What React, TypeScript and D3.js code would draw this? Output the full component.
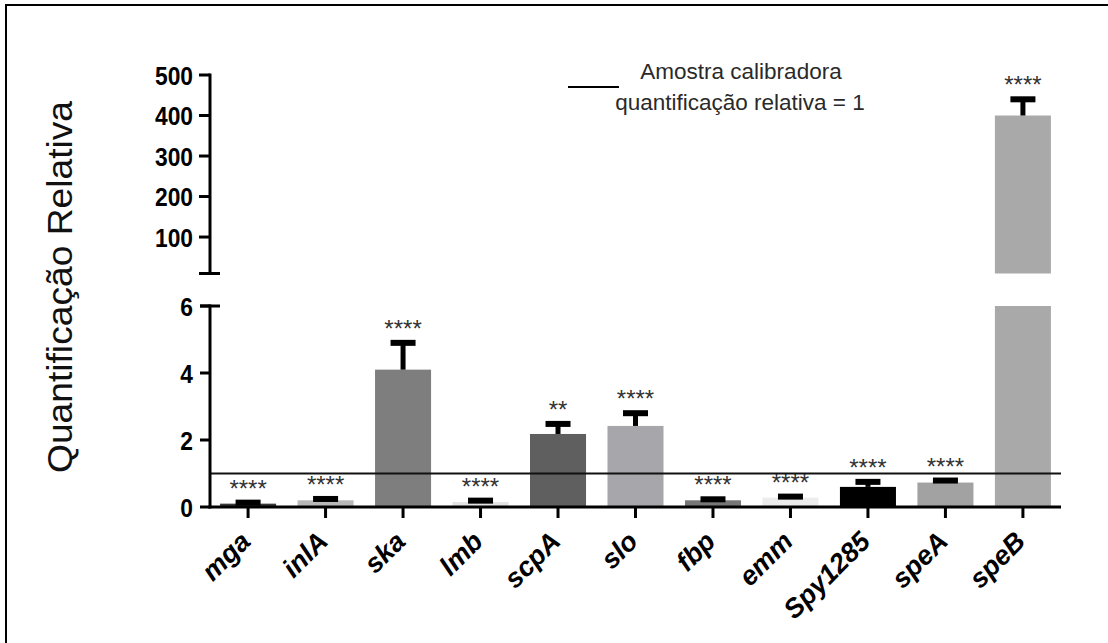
import React from "react";
import * as d3 from "d3";

// Relative expression of each gene against the calibrator sample (= 1)
const genes = ["mga", "inlA", "ska", "lmb", "scpA", "slo", "fbp", "emm", "Spy1285", "speA", "speB"];
const means = [0.1, 0.2, 4.1, 0.15, 2.18, 2.42, 0.2, 0.28, 0.6, 0.73, 400];
const errors = [0.03, 0.04, 0.8, 0.04, 0.3, 0.38, 0.03, 0.03, 0.15, 0.06, 40];
const significance = ["****", "****", "****", "****", "**", "****", "****", "****", "****", "****", "****"];
const barFills = ["#3a3a3a", "#b9b9b9", "#7e7e7e", "#e4e4e4", "#5f5f5f", "#a7a7ab", "#777777", "#ececec", "#000000", "#a2a2a2", "#a9a9a9"];

const lowerTicks = [0, 2, 4, 6];
const upperTicks = [100, 200, 300, 400, 500];
const calibrator = 1;

const W = 1108;
const H = 643;
const FONT = "'Liberation Sans', Arial, sans-serif";

export default function App() {
  const axisX = 210;
  const x = d3
    .scaleBand<string>()
    .domain(genes)
    .range([axisX, 1061])
    .paddingInner(0.277)
    .paddingOuter(0.13);

  // Broken y axis: lower segment 0–6, upper segment 10–500
  const yLow = d3.scaleLinear().domain([0, 6]).range([507, 306]);
  const yUp = d3.scaleLinear().domain([10, 500]).range([273.5, 75]);
  const lowMax = 6;

  const bw = x.bandwidth();
  const capW = 25;

  const tickLabel = (t: number, y: number) => (
    <text
      key={"tl" + t + "-" + y}
      transform={`translate(${axisX - 17},${y}) scale(0.95,1.1)`}
      dy="0.36em"
      textAnchor="end"
      fontSize={24}
      fontWeight="bold"
      fill="#000"
    >
      {t}
    </text>
  );

  return (
    <svg
      width={W}
      height={H}
      style={{ position: "absolute", left: 0, top: 0, background: "#fff" }}
      fontFamily={FONT}
    >
      {/* frame */}
      <rect x={6} y={5} width={1300} height={800} fill="none" stroke="#000" strokeWidth={2} />

      {/* bars */}
      {genes.map((g, i) => {
        const v = means[i];
        const x0 = x(g)!;
        if (v > lowMax) {
          return (
            <g key={g}>
              <rect x={x0} y={yLow(lowMax)} width={bw} height={yLow(0) - yLow(lowMax)} fill={barFills[i]} />
              <rect x={x0} y={yUp(v)} width={bw} height={yUp(10) - yUp(v)} fill={barFills[i]} />
            </g>
          );
        }
        return <rect key={g} x={x0} y={yLow(v)} width={bw} height={yLow(0) - yLow(v)} fill={barFills[i]} />;
      })}

      {/* error bars (upper side) */}
      {genes.map((g, i) => {
        const v = means[i];
        const top = v + errors[i];
        const cx = x(g)! + bw / 2;
        const y = v > lowMax ? yUp : yLow;
        return (
          <g key={"e" + g}>
            <line x1={cx} x2={cx} y1={y(v)} y2={y(top)} stroke="#000" strokeWidth={5} />
            <rect x={cx - capW / 2} y={y(top) - 3} width={capW} height={6} fill="#000" />
          </g>
        );
      })}

      {/* significance marks */}
      {genes.map((g, i) => {
        const v = means[i];
        const top = v + errors[i];
        const y = v > lowMax ? yUp : yLow;
        return (
          <text
            key={"s" + g}
            x={x(g)! + bw / 2}
            y={y(top) - 6}
            textAnchor="middle"
            fontSize={24}
            fill="#333"
          >
            {significance[i]}
          </text>
        );
      })}

      {/* calibrator reference line */}
      <line x1={axisX} x2={1061} y1={yLow(calibrator)} y2={yLow(calibrator)} stroke="#111" strokeWidth={2} />

      {/* lower y axis */}
      <line x1={axisX} x2={axisX} y1={yLow(lowMax) - 1.5} y2={yLow(0) + 1.5} stroke="#000" strokeWidth={3} />
      <line x1={axisX - 10} x2={axisX + 10} y1={yLow(lowMax)} y2={yLow(lowMax)} stroke="#000" strokeWidth={3} />
      {lowerTicks.map((t) => (
        <g key={"lt" + t}>
          <line x1={axisX - 10} x2={axisX} y1={yLow(t)} y2={yLow(t)} stroke="#000" strokeWidth={3} />
          {tickLabel(t, yLow(t))}
        </g>
      ))}

      {/* upper y axis */}
      <line x1={axisX} x2={axisX} y1={yUp(500) - 1.5} y2={yUp(10) + 1.5} stroke="#000" strokeWidth={3} />
      <line x1={axisX - 11} x2={axisX + 10} y1={yUp(10)} y2={yUp(10)} stroke="#000" strokeWidth={3} />
      {upperTicks.map((t) => (
        <g key={"ut" + t}>
          <line x1={axisX - 11} x2={axisX} y1={yUp(t)} y2={yUp(t)} stroke="#000" strokeWidth={3} />
          {tickLabel(t, yUp(t))}
        </g>
      ))}

      {/* x axis */}
      <line x1={axisX - 1.5} x2={1061} y1={yLow(0)} y2={yLow(0)} stroke="#000" strokeWidth={3} />
      {genes.map((g) => {
        const cx = x(g)! + bw / 2;
        return (
          <g key={"xt" + g}>
            <line x1={cx} x2={cx} y1={yLow(0)} y2={yLow(0) + 11} stroke="#000" strokeWidth={3} />
            <text
              transform={`translate(${cx + 4},${543}) rotate(-45)`}
              textAnchor="end"
              fontSize={27}
              fontWeight="bold"
              fontStyle="italic"
              fill="#000"
            >
              {g}
            </text>
          </g>
        );
      })}

      {/* y axis title */}
      <text
        transform={`translate(72,287) rotate(-90)`}
        textAnchor="middle"
        fontSize={35}
        fill="#111"
        textLength={372}
        lengthAdjust="spacingAndGlyphs"
      >
        Quantificação Relativa
      </text>

      {/* legend */}
      <line x1={568} x2={619} y1={87} y2={87} stroke="#000" strokeWidth={2} />
      <text x={741} y={79} textAnchor="middle" fontSize={22.5} fill="#2a2a2a">
        Amostra calibradora
      </text>
      <text x={740} y={110} textAnchor="middle" fontSize={22.5} fill="#2a2a2a">
        quantificação relativa = 1
      </text>
    </svg>
  );
}
